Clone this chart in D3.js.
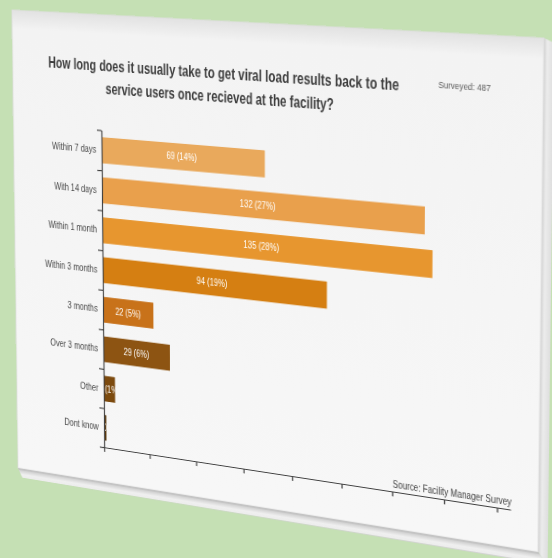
<!DOCTYPE html>
<html>
<head>
<meta charset="utf-8">
<script src="https://cdn.jsdelivr.net/npm/d3@7"></script>
<style>
  html, body { margin: 0; padding: 0; width: 552px; height: 558px; overflow: hidden; background: #c5e0b4; }
  #card { position: absolute; left: 0; top: 0; transform-origin: 0 0; }
  #card svg { overflow: visible; display: block; }
  text { font-family: "Liberation Sans Narrow", "Arial Narrow", "Liberation Sans", Arial, sans-serif; }
</style>
</head>
<body>
<div id="card"></div>
<script>
// Survey answers
const categories = ["Within 7 days", "With 14 days", "Within 1 month", "Within 3 months",
                    "3 months", "Over 3 months", "Other", "Dont know"];
const counts   = [69, 132, 135, 94, 22, 29, 5, 1];
const percents = [14, 27, 28, 19, 5, 6, 1, 0];
const barColors = ["#e9a95c", "#e9a04c", "#e7962f", "#d57f12",
                   "#c8721a", "#8d5412", "#7c4a0e", "#5a380c"];
const xTicks = [0, 20, 40, 60, 80, 100, 120, 140, 160];
const titleLines = ["How long does it usually take to get viral load results back to the",
                    "service users once recieved at the facility?"];
const surveyed = 487;
const sourceNote = "Source: Facility Manager Survey";

// Flat card size, and where its four corners land on the page (tilted slide)
const W = 540, H = 500;
const quad = [[12, 10], [544, 38], [538, 552], [18, 468]];

// Projective map from the unit square to a quadrilateral
function squareToQuad(q) {
  const [x0, y0] = q[0], [x1, y1] = q[1], [x2, y2] = q[2], [x3, y3] = q[3];
  const dx1 = x1 - x2, dx2 = x3 - x2, dx3 = x0 - x1 + x2 - x3;
  const dy1 = y1 - y2, dy2 = y3 - y2, dy3 = y0 - y1 + y2 - y3;
  const den = dx1 * dy2 - dy1 * dx2;
  const g = (dx3 * dy2 - dy3 * dx2) / den;
  const h = (dx1 * dy3 - dy1 * dx3) / den;
  return { a: x1 - x0 + g * x1, b: x3 - x0 + h * x3, c: x0,
           d: y1 - y0 + g * y1, e: y3 - y0 + h * y3, f: y0, g, h };
}
const m = squareToQuad(quad);
const M = [m.a / W, m.d / W, 0, m.g / W,
           m.b / H, m.e / H, 0, m.h / H,
           0, 0, 1, 0,
           m.c, m.f, 0, 1];
d3.select("#card")
  .style("width", (W + 14) + "px")
  .style("height", (H + 16) + "px")
  .style("transform", `matrix3d(${M.join(",")})`);

const svg = d3.select("#card").append("svg")
  .attr("width", W + 14)
  .attr("height", H + 16);

// Narrow lettering: squeeze each label to a fixed share of its natural width
function condense(sel, k) {
  sel.each(function () {
    const w = this.getComputedTextLength();
    d3.select(this).attr("textLength", w * k).attr("lengthAdjust", "spacingAndGlyphs");
  });
}

const defs = svg.append("defs");
const gBottom = defs.append("linearGradient").attr("id", "edgeBottom")
  .attr("x1", 0).attr("y1", 0).attr("x2", 0).attr("y2", 1);
[["0%", "#a9a9a9"], ["20%", "#d2d2d2"], ["60%", "#f0f0f0"], ["88%", "#ececec"], ["100%", "#c4c4c4"]]
  .forEach(([o, c]) => gBottom.append("stop").attr("offset", o).attr("stop-color", c));
const gRight = defs.append("linearGradient").attr("id", "edgeRight")
  .attr("x1", 0).attr("y1", 0).attr("x2", 1).attr("y2", 0);
[["0%", "#d0d0d0"], ["35%", "#ececec"], ["100%", "#dedede"]]
  .forEach(([o, c]) => gRight.append("stop").attr("offset", o).attr("stop-color", c));
const gTop = defs.append("linearGradient").attr("id", "faceTop")
  .attr("x1", 0).attr("y1", 0).attr("x2", 0).attr("y2", 1);
[["0%", "#e2e2e2"], ["4%", "#f3f3f3"], ["100%", "#f7f7f7"]]
  .forEach(([o, c]) => gTop.append("stop").attr("offset", o).attr("stop-color", c));

// Card thickness and face
svg.append("path")
  .attr("d", `M${W},0 L${W + 9},4 L${W + 9},${H + 11} L${W},${H} Z`)
  .attr("fill", "url(#edgeRight)");
svg.append("path")
  .attr("d", `M0,${H} L${W},${H} L${W + 9},${H + 11} L5,${H + 10} Z`)
  .attr("fill", "url(#edgeBottom)");
svg.append("rect")
  .attr("x", 0).attr("y", 0).attr("width", W).attr("height", H)
  .attr("fill", "url(#faceTop)")
  .attr("stroke", "#dedede").attr("stroke-width", 0.8);

// Scales
const x = d3.scaleLinear().domain([0, 165]).range([99, 514]);
const y = d3.scaleBand().domain(categories).range([121.5, 462])
  .paddingInner(0.35).paddingOuter(0.175);
const yEdge = d3.scaleLinear().domain([0, categories.length]).range(y.range());

const rows = categories.map((c, i) => ({ c, v: counts[i], p: percents[i], col: barColors[i], i }));

// Bars
svg.append("g").selectAll("rect").data(rows).join("rect")
  .attr("x", x(0))
  .attr("y", d => y(d.c))
  .attr("width", d => x(d.v) - x(0))
  .attr("height", y.bandwidth())
  .attr("fill", d => d.col);

// Value labels, kept inside their bars
defs.selectAll("clipPath").data(rows).join("clipPath")
  .attr("id", d => "bar" + d.i)
  .append("rect")
  .attr("x", x(0))
  .attr("y", d => y(d.c))
  .attr("width", d => x(d.v) - x(0))
  .attr("height", y.bandwidth());
svg.append("g").selectAll("text").data(rows).join("text")
  .attr("clip-path", d => `url(#bar${d.i})`)
  .attr("x", d => (x(0) + x(d.v)) / 2)
  .attr("y", d => y(d.c) + y.bandwidth() / 2)
  .attr("dy", "0.35em")
  .attr("text-anchor", "middle")
  .attr("font-size", 10)
  .attr("fill", "#ffffff")
  .text(d => `${d.v} (${d.p}%)`)
  .call(condense, 0.8);

// Category axis: ticks between categories, names beside each bar
const yAxis = svg.append("g").attr("transform", `translate(${x(0)},0)`)
  .call(d3.axisLeft(yEdge).tickValues(d3.range(categories.length + 1))
    .tickSize(5).tickSizeOuter(0).tickFormat(""));
yAxis.selectAll("path, line").attr("stroke", "#404040").attr("stroke-width", 1.2);

const yLabels = svg.append("g").attr("transform", `translate(${x(0)},0)`)
  .call(d3.axisLeft(y).tickSize(0).tickPadding(6));
yLabels.select(".domain").remove();
yLabels.selectAll("text")
  .attr("font-size", 10.5)
  .attr("fill", "#454545")
  .style("font-family", null)
  .call(condense, 0.78);

// Value axis
const xAxis = svg.append("g").attr("transform", `translate(0,${y.range()[1]})`)
  .call(d3.axisBottom(x).tickValues(xTicks).tickSize(5).tickSizeOuter(0).tickFormat(""));
xAxis.selectAll("path, line").attr("stroke", "#404040").attr("stroke-width", 1.2);

// Title and notes
const title = svg.append("g");
title.selectAll("text").data(titleLines).join("text")
  .attr("x", 223)
  .attr("y", (d, i) => 59.5 + i * 23.5)
  .attr("text-anchor", "middle")
  .attr("font-size", 16)
  .attr("font-weight", "bold")
  .attr("fill", "#3c3c3c")
  .attr("textLength", (d, i) => [365, 238][i])
  .attr("lengthAdjust", "spacingAndGlyphs")
  .text(d => d);

svg.append("text")
  .attr("x", 443).attr("y", 54.5)
  .attr("font-size", 9.5)
  .attr("fill", "#595959")
  .text(`Surveyed: ${surveyed}`)
  .call(condense, 0.8);

svg.append("text")
  .attr("x", 515).attr("y", y.range()[1] - 3.5)
  .attr("text-anchor", "end")
  .attr("font-size", 10.5)
  .attr("fill", "#404040")
  .text(sourceNote)
  .call(condense, 0.75);
</script>
</body>
</html>
